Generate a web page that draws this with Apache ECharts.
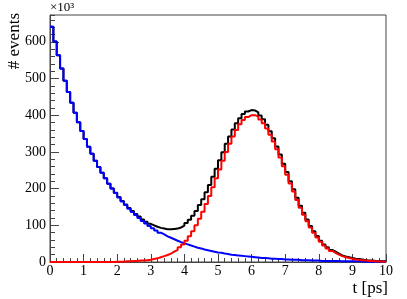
<!DOCTYPE html>
<html>
<head>
<meta charset="utf-8">
<script src="https://cdn.jsdelivr.net/npm/echarts@6/dist/echarts.min.js"></script>
<style>html,body{margin:0;padding:0;background:#fff;}#c{width:407px;height:299px;}</style>
</head>
<body>
<div id="c"></div>
<script>
// histogram binning (t axis, ps)
const tMin = 0, tMax = 10, binWidth = 0.1;
const xTicks = [0,1,2,3,4,5,6,7,8,9,10];
const yTicks = [0,100,200,300,400,500,600];
const yMax = 673;
// bin contents (x10^3 events), 100 bins of 0.1 ps
const blue = [641,601,563,527,494,463,434,407,381,357,
 335,314,295,276,259,243,228,213,200,188,
 176,165,155,145,136,128,120,112,105,98,
 92,86,80,75,70,66,62,58,54,51,
 48,45,42,39,37,34,32,30,28,26,
 25,23,22,20,19,18,17,16,15,14,
 13,12,11,11,10,9,9,8,8,7,
 7,6,6,6,5,5,5,4,4,4,
 3,3,3,3,3,3,2,2,2,2,
 2,2,2,1,1,1,1,1,1,1];
const red = [0,0,0,0,0,0,0,0,0,0,
 0,0,0,0,0,0,0,0,0,1,
 1,1,2,2,3,3,4,4,5,6,
 8,10,13,16,19,23,28,33,40,48,
 58,70,84,100,118,137,158,180,204,228,
 252,276,300,322,342,360,375,387,395,400,
 400,396,388,378,364,347,328,307,285,261,
 238,214,192,169,148,129,111,94,80,67,
 55,45,37,30,25,20,16,13,11,9,
 7,6,5,4,3,3,2,2,1,1];
const black = [641,601,563,527,494,463,434,407,381,357,
 335,314,295,276,259,243,228,213,200,189,
 177,166,157,147,139,131,124,116,110,104,
 100,96,93,91,89,89,90,91,94,99,
 106,115,126,139,155,171,190,210,232,254,
 277,299,322,342,361,378,392,403,410,414,
 413,408,399,389,374,356,337,315,293,268,
 245,220,198,175,153,134,116,98,84,71,
 58,48,40,33,28,23,18,15,13,11,
 9,8,7,5,4,4,3,3,2,2];

function steps(vals){
  const pts = vals.map((v,i)=>[+(tMin + i*binWidth).toFixed(4), v]);
  pts.push([tMax, vals[vals.length-1]]);
  return pts;
}
const font = 'Liberation Serif';
const axisCol = '#444';
const chart = echarts.init(document.getElementById('c'), null, {renderer:'canvas'});
chart.setOption({
  animation:false,
  backgroundColor:'#fff',
  grid:{left:50,right:21,top:15,bottom:37,show:true,borderColor:axisCol,borderWidth:1,backgroundColor:'transparent'},
  xAxis:{type:'value',min:xTicks[0],max:xTicks[xTicks.length-1],interval:1,
    name:'t [ps]',nameLocation:'end',nameGap:2,
    nameTextStyle:{fontFamily:font,fontSize:17,color:'#000',align:'right',verticalAlign:'top',padding:[18,0,0,0]},
    axisLine:{lineStyle:{color:axisCol,width:1}},
    axisTick:{inside:true,length:8,lineStyle:{color:axisCol}},
    minorTick:{show:true,splitNumber:5,length:4,lineStyle:{color:axisCol}},
    splitLine:{show:false},
    axisLabel:{fontFamily:font,fontSize:14,color:'#000',margin:2}},
  yAxis:[{type:'value',min:0,max:yMax,interval:100,
    axisLine:{show:true,lineStyle:{color:axisCol,width:1}},
    axisTick:{show:true,inside:true,length:9,lineStyle:{color:axisCol}},
    splitLine:{show:false},
    axisLabel:{fontFamily:font,fontSize:14,color:'#000',margin:4,showMaxLabel:false,
      formatter:v=> yTicks.indexOf(v)>=0 ? String(v) : ''}},
   {type:'value',min:0,max:yMax,interval:20,position:'left',
    axisLine:{show:false},
    axisTick:{show:true,inside:true,length:5,lineStyle:{color:axisCol}},
    splitLine:{show:false},axisLabel:{show:false}}],
  graphic:[
    {type:'text',left:50,top:1,style:{text:'×10³',font:'13px "Liberation Serif"',fill:'#000'}},
    {type:'text',x:15,y:13,rotation:Math.PI/2,
     style:{text:'# events',font:'17px "Liberation Serif"',fill:'#000',align:'right',verticalAlign:'middle'}}
  ],
  series:[
    {type:'line',step:'end',data:steps(black),showSymbol:false,clip:false,lineStyle:{color:'#000',width:2},z:2},
    {type:'line',step:'end',data:steps(blue),showSymbol:false,clip:false,lineStyle:{color:'#0000ff',width:2},z:3},
    {type:'line',step:'end',data:steps(red),showSymbol:false,clip:false,lineStyle:{color:'#ff0000',width:2},z:4}
  ]
});
</script>
</body>
</html>
